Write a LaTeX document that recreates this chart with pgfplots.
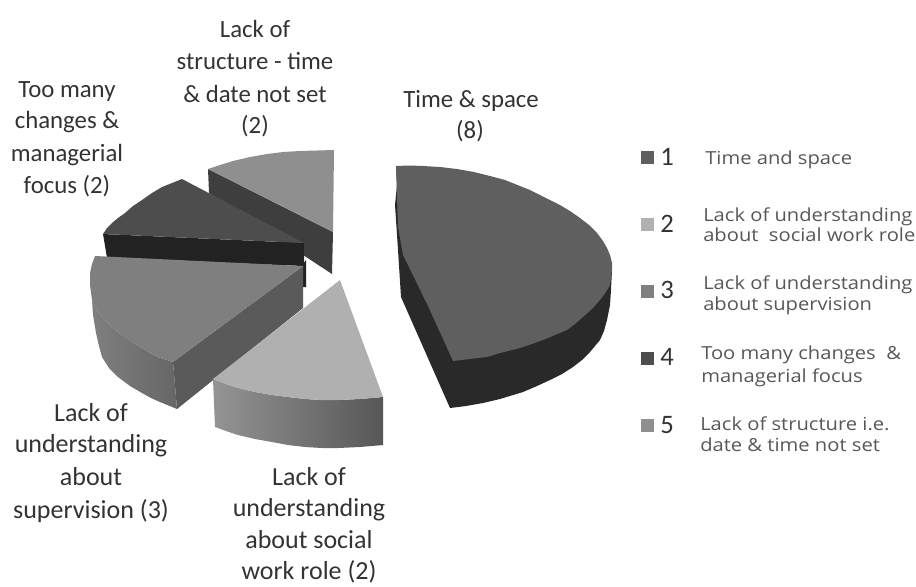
\documentclass[border=0pt]{standalone}
\usepackage{pgfplots}
\pgfplotsset{compat=1.18}
\usepackage{fontspec}
\setmainfont{Carlito}
\newfontfamily\legendfont{Open Sans}
\definecolor{c1}{HTML}{5F5F5F}
\definecolor{c1s}{HTML}{292929}
\definecolor{c2}{HTML}{B0B0B0}
\definecolor{c3}{HTML}{7F7F7F}
\definecolor{c3s}{HTML}{5A5A5A}
\definecolor{c4}{HTML}{4D4D4D}
\definecolor{c4s}{HTML}{222222}
\definecolor{c5}{HTML}{8F8F8F}
\definecolor{c5s}{HTML}{3E3E3E}
\tikzset{
  lab/.style={font=\fontsize{18.6}{20}\selectfont, text=black!80, anchor=base, inner sep=0pt},
  labb/.style={font=\fontsize{19.5}{20}\selectfont, text=black!80, anchor=base, inner sep=0pt},
  leg/.style={font=\legendfont\fontsize{13.5}{14}\selectfont, text=black!66, anchor=base west, inner sep=0pt},
  num/.style={font=\fontsize{20}{22}\selectfont, text=black!80, anchor=base, inner sep=0pt},
}
\newcommand{\wide}[1]{\scalebox{1.12}[1]{#1}}
\begin{document}
\begin{tikzpicture}
\begin{axis}[
  width=687pt, height=439.5pt, scale only axis,
  xmin=0, xmax=916, ymin=0, ymax=586, y dir=reverse,
  hide axis, clip=false,
]
\path[use as bounding box] (axis cs:0,0) rectangle (axis cs:916,586);

% Lack of structure: side wall, then top face
\addplot[draw=none, fill=c5s] coordinates {(208,169) (333,232) (332,274) (209,193)} -- cycle;
\addplot[draw=none, fill=c5] coordinates {(208,169) (220,165) (233,161) (250,157) (267,154) (283,152) (300,151) (317,150.5) (334,150) (333,232)} -- cycle;

% Too many changes
\addplot[draw=none, fill=c4s] coordinates {(103,234) (304,243) (304,263) (306,260) (306,287) (303,287) (303,266) (107,258)} -- cycle;
\addplot[draw=none, fill=c4] coordinates {(182,179) (172,183) (162,187) (152,193) (142,200) (133,206) (125,213) (118,218) (112,223) (107,228) (103,234) (304,243)} -- cycle;

% Lack of understanding about supervision
\addplot[draw=none, fill=c3s] coordinates {(303,266) (303,308) (177,409) (173,362)} -- cycle;
\addplot[draw=none, left color=c3, right color=black!60] coordinates {(92,300) (93,315) (96,333) (99,346) (102,357) (109,368) (118,377) (130,386) (142,393) (151,398) (160,402) (177,409) (173,362) (158,357) (150,353) (142,348) (132,342) (122,335) (113,328) (105,320) (98,312)} -- cycle;
\addplot[draw=none, fill=c3] coordinates {(95,256) (92,264) (90,273) (90,285) (92,300) (98,312) (105,320) (113,328) (122,335) (132,342) (142,348) (150,353) (158,357) (173,362) (303,266)} -- cycle;

% Lack of understanding about social work role
\addplot[draw=none, left color=black!42, right color=black!66] coordinates {(213,379) (215,427) (226,431) (238,435) (255,439) (272,442) (288,445) (305,447) (322,448) (338,448) (360,447) (383,445) (383,397) (360,399) (338,400) (322,400) (305,399) (288,397) (272,395) (255,392) (238,388) (226,384)} -- cycle;
\addplot[draw=none, fill=c2] coordinates {(340,280) (213,379) (226,384) (238,388) (255,392) (272,395) (288,397) (305,399) (322,400) (338,400) (360,399) (383,397)} -- cycle;

% Time and space
\addplot[draw=none, fill=c1s] coordinates {(396,166) (397,185) (395,205) (398,250) (401,297) (450,408) (466,406) (483,403) (500,399) (523,392) (537,386) (550,380) (562,374) (573,367) (582,360) (590,352) (595,346) (600,340) (604,331) (607,320) (610,305) (611,290) (612,270) (480,300)} -- cycle;
\addplot[draw=none, fill=c1] coordinates {(396,166) (410,165.5) (423,166) (440,167) (457,169) (474,172) (490,176) (505,180) (520,186) (530,190) (540,195) (550,200) (560,205) (570,211) (580,218) (589,225) (597,233) (603,241) (607,248) (610,255) (612,263) (612,270) (611,277) (610,285) (606,292) (600,300) (592,309) (583,317) (575,324) (567,330) (555,335) (543,340) (532,344) (520,348) (500,353) (487,357) (470,359) (453,361) (428,306) (403,255) (398,227)} -- cycle;

% Key swatches
\addplot[only marks, mark=square*, mark size=4.6pt, mark options={draw=c1, fill=c1}] coordinates {(647,157)};
\addplot[only marks, mark=square*, mark size=4.6pt, mark options={draw=c2, fill=c2}] coordinates {(647,224)};
\addplot[only marks, mark=square*, mark size=4.6pt, mark options={draw=c3, fill=c3}] coordinates {(647,291)};
\addplot[only marks, mark=square*, mark size=4.6pt, mark options={draw=c4, fill=c4}] coordinates {(647,358)};
\addplot[only marks, mark=square*, mark size=4.6pt, mark options={draw=c5, fill=c5}] coordinates {(647,425)};

\node[num] at (axis cs:667,165) {1};
\node[num] at (axis cs:667,232) {2};
\node[num] at (axis cs:667,298) {3};
\node[num] at (axis cs:667,365) {4};
\node[num] at (axis cs:667,433) {5};

\node[leg] at (axis cs:705,164) {\wide{Time and space}};
\node[leg] at (axis cs:703,221) {\wide{Lack of understanding}};
\node[leg] at (axis cs:703,241) {\wide{about\ \ social work role}};
\node[leg] at (axis cs:703,289) {\wide{Lack of understanding}};
\node[leg] at (axis cs:703,310) {\wide{about supervision}};
\node[leg] at (axis cs:701,359) {\wide{Too many changes\ \ \&}};
\node[leg] at (axis cs:701,382) {\wide{managerial focus}};
\node[leg] at (axis cs:700,430) {\wide{Lack of structure i.e.}};
\node[leg] at (axis cs:700,451) {\wide{date \& time not set}};

\node[lab] at (axis cs:255,37) {Lack of};
\node[lab] at (axis cs:255,69) {structure - time};
\node[lab] at (axis cs:255,102) {\& date not set};
\node[lab] at (axis cs:255,133) {(2)};
\node[lab] at (axis cs:67,97) {Too many};
\node[lab] at (axis cs:67,128) {changes \&};
\node[lab] at (axis cs:67,161) {managerial};
\node[lab] at (axis cs:67,193) {focus (2)};
\node[lab] at (axis cs:471,107) {Time \& space};
\node[lab] at (axis cs:470,138) {(8)};
\node[labb] at (axis cs:91,421) {Lack of};
\node[labb] at (axis cs:91,452) {understanding};
\node[labb] at (axis cs:91,485) {about};
\node[labb] at (axis cs:91,518) {supervision (3)};
\node[labb] at (axis cs:309,485) {Lack of};
\node[labb] at (axis cs:309,516) {understanding};
\node[labb] at (axis cs:309,548) {about social};
\node[labb] at (axis cs:309,579) {work role (2)};
\end{axis}
\end{tikzpicture}
\end{document}
